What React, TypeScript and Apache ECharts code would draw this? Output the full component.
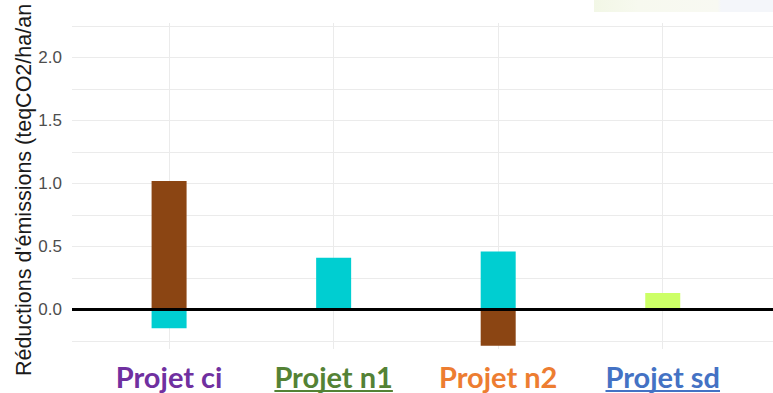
import React, { useEffect, useRef } from 'react';
import * as echarts from 'echarts';

const categories = ['Projet ci', 'Projet n1', 'Projet n2', 'Projet sd'];
const labelColors = ['#7030A0', '#548235', '#ED7D31', '#4472C4'];
const underlined = [false, true, false, true];
const brownValues: (number | null)[] = [1.02, null, -0.29, null];
const cyanValues: (number | null)[] = [-0.15, 0.41, 0.46, null];
const greenValues: (number | null)[] = [null, null, null, 0.13];
const categoryTicks = [0, 1, 2, 3];
const yLabelTicks = [0, 0.5, 1, 1.5, 2];
const yGridTicks = [-0.25, 0, 0.25, 0.5, 0.75, 1, 1.25, 1.5, 1.75, 2, 2.25];
const yAxisTitle = "Réductions d'émissions (teqCO2/ha/an";

const LABEL_FONT_SIZE = 29;
const LABEL_FONT_FAMILY = 'Lato';

export default function App() {
  const ref = useRef<HTMLDivElement>(null);

  useEffect(() => {
    if (!ref.current) return;
    const chart = echarts.init(ref.current, undefined, { renderer: 'svg' });

    const rich: Record<string, any> = {};
    categories.forEach((_, i) => {
      rich['c' + i] = {
        color: labelColors[i],
        fontWeight: 'bold',
        fontSize: LABEL_FONT_SIZE,
        fontFamily: LABEL_FONT_FAMILY,
      };
    });

    const toData = (vals: (number | null)[]) => vals.map((v, i) => [i, v]);

    const barBase = {
      type: 'bar' as const,
      stack: 'total',
      barWidth: 35,
      z: 3,
    };

    chart.setOption({
      animation: false,
      backgroundColor: '#ffffff',
      grid: { left: 72, right: 0, top: 23, bottom: 44, containLabel: false },
      xAxis: {
        type: 'value',
        min: -0.59,
        max: 3.67,
        axisLine: { show: false },
        axisTick: { show: false, customValues: categoryTicks },
        splitLine: { show: false },
        axisLabel: {
          customValues: categoryTicks,
          margin: 13,
          formatter: (v: number) => {
            const i = Math.round(v);
            return `{c${i}|${categories[i]}}`;
          },
          rich,
        },
      },
      yAxis: {
        type: 'value',
        min: -0.315,
        max: 2.275,
        axisLine: { show: false },
        axisTick: { show: false, customValues: yGridTicks },
        splitLine: { show: true, lineStyle: { color: '#ebebeb', width: 1 } },
        axisLabel: {
          customValues: yLabelTicks,
          margin: 10,
          fontSize: 17,
          color: '#4d4d4d',
          fontFamily: 'Liberation Sans',
          formatter: (v: number) => v.toFixed(1),
        },
      },
      series: [
        {
          type: 'line',
          name: 'vgrid',
          data: [],
          silent: true,
          z: 1,
          markLine: {
            silent: true,
            z: 1,
            symbol: ['none', 'none'],
            label: { show: false },
            lineStyle: { color: '#ebebeb', width: 1, type: 'solid' },
            data: categoryTicks.map((t) => ({ xAxis: t })),
          },
        },
        {
          ...barBase,
          name: 'brown',
          itemStyle: { color: '#8B4513' },
          data: toData(brownValues),
        },
        {
          ...barBase,
          name: 'cyan',
          itemStyle: { color: '#00CED1' },
          data: toData(cyanValues),
        },
        {
          ...barBase,
          name: 'green',
          itemStyle: { color: '#CCFF66' },
          data: toData(greenValues),
          markLine: {
            silent: true,
            z: 10,
            symbol: ['none', 'none'],
            label: { show: false },
            lineStyle: { color: '#000000', width: 3, type: 'solid' },
            data: [{ yAxis: 0 }],
          },
        },
      ],
    });

    const canvas = document.createElement('canvas');
    const ctx = canvas.getContext('2d');
    const graphics: any[] = [
      {
        type: 'rect',
        z: -10,
        silent: true,
        shape: { x: 594, y: 0, width: 179, height: 12 },
        style: {
          fill: new echarts.graphic.LinearGradient(0, 0, 1, 0, [
            { offset: 0, color: '#f2f7e6' },
            { offset: 0.25, color: '#f7f9ef' },
            { offset: 0.69, color: '#f8f9f2' },
            { offset: 0.71, color: '#f4f6fa' },
            { offset: 1, color: '#f4f6fa' },
          ]),
        },
      },
      {
        type: 'text',
        silent: true,
        x: 24,
        y: 190,
        rotation: Math.PI / 2,
        style: {
          text: yAxisTitle,
          fontSize: 21.5,
          fontFamily: 'Liberation Sans',
          fill: '#1a1a1a',
          align: 'center',
          verticalAlign: 'middle',
        },
      },
    ];
    if (ctx) {
      ctx.font = `bold ${LABEL_FONT_SIZE}px ${LABEL_FONT_FAMILY}`;
      categories.forEach((c, i) => {
        if (!underlined[i]) return;
        const cx = chart.convertToPixel({ xAxisIndex: 0 }, i) as number;
        const w = ctx.measureText(c).width;
        graphics.push({
          type: 'line',
          silent: true,
          shape: { x1: cx - w / 2, y1: 391, x2: cx + w / 2, y2: 391 },
          style: { stroke: labelColors[i], lineWidth: 2 },
        });
      });
    }
    chart.setOption({ graphic: graphics });

    return () => {
      chart.dispose();
    };
  }, []);

  return (
    <div
      ref={ref}
      style={{ position: 'fixed', left: 0, top: 0, width: 773, height: 393 }}
    />
  );
}
